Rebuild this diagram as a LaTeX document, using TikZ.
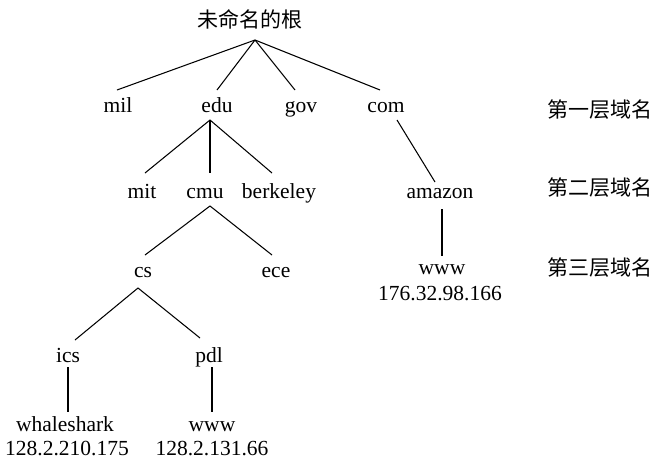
\documentclass[tikz,border=0pt]{standalone}
\usepackage{fontspec}
\setmainfont{Liberation Serif}
\newfontfamily\cjk{Noto Sans CJK SC}
\begin{document}
\begin{tikzpicture}[x=1pt,y=-1pt,
  lbl/.style={font=\fontsize{21.5}{24}\selectfont, inner sep=0pt, text height=15pt, text depth=1pt, outer ysep=7pt, anchor=base},
  iptext/.style={font=\fontsize{21.5}{24}\selectfont, inner sep=0pt, anchor=base},
  cn/.style={font=\cjk\fontsize{21}{24}\selectfont, inner sep=0pt},
  edge/.style={line width=1.05pt, black}]
\useasboundingbox (0,0) rectangle (654,461);
\fill[white] (0,0) rectangle (654,461);

% root
\node[cn] (root) at (250,19) {未命名的根};
\coordinate (rootb) at (255,40);

% level 1
\node[lbl] (mil) at (118,112) {mil};
\node[lbl] (edu) at (217,112) {edu};
\node[lbl] (gov) at (301,112) {gov};
\node[lbl] (com) at (386,112) {com};

% level 2
\node[lbl] (mit) at (142,198) {mit};
\node[lbl] (cmu) at (205,198) {cmu};
\node[lbl] (berkeley) at (279,198) {berkeley};
\node[lbl] (amazon) at (440,198) {amazon};

% level 3
\node[lbl] (cs) at (143,277) {cs};
\node[lbl] (ece) at (276,277) {ece};
\node[lbl] (wwwa) at (442,274) {www};
\node[iptext] (ipa) at (440,300) {176.32.98.166};

% level 4
\node[lbl] (ics) at (68,362) {ics};
\node[lbl] (pdl) at (209,362) {pdl};

% leaves
\node[lbl] (whale) at (65,431) {whaleshark};
\node[iptext] (ipw) at (67,455) {128.2.210.175};
\node[lbl] (wwwp) at (212,431) {www};
\node[iptext] (ipp) at (212,455) {128.2.131.66};

% right-side level labels
\node[cn] (l1) at (600,110) {第一层域名};
\node[cn] (l2) at (600,188) {第二层域名};
\node[cn] (l3) at (600,268) {第三层域名};

% connectors
\draw[edge] (rootb) -- ([xshift=-1pt]mil.north);
\draw[edge] (rootb) -- (edu.north);
\draw[edge] (rootb) -- ([xshift=-6pt]gov.north);
\draw[edge] (rootb) -- ([xshift=-6pt]com.north);

\draw[edge] ([xshift=-7pt]edu.south) -- ([xshift=3pt,yshift=3pt]mit.north);
\draw[edge] ([xshift=-7pt]edu.south) -- ([xshift=5pt,yshift=3pt]cmu.north);
\draw[edge] ([xshift=-7pt]edu.south) -- ([xshift=-7pt,yshift=3pt]berkeley.north);

\draw[edge] ([xshift=5pt]cmu.south) -- ([xshift=2pt]cs.north);
\draw[edge] ([xshift=5pt]cmu.south) -- ([xshift=-4pt]ece.north);

\draw[edge] ([xshift=-5pt,yshift=-3pt]cs.south) -- ([xshift=7pt]ics.north);
\draw[edge] ([xshift=-5pt,yshift=-3pt]cs.south) -- ([xshift=-9pt,yshift=2pt]pdl.north);

\draw[edge, shorten <=-3pt, shorten >=-3pt] (ics.south) -- (ics.south |- whale.north);
\draw[edge, shorten <=-3pt, shorten >=-3pt] ([xshift=3pt]pdl.south) -- ([xshift=3pt]pdl.south |- wwwp.north);

\draw[edge] ([xshift=11pt]com.south) -- ([xshift=-5pt,yshift=-6pt]amazon.north);
\draw[edge, shorten <=3pt, shorten >=-4pt] ([xshift=2pt]amazon.south) -- ([xshift=2pt]amazon.south |- wwwa.north);
\end{tikzpicture}
\end{document}
